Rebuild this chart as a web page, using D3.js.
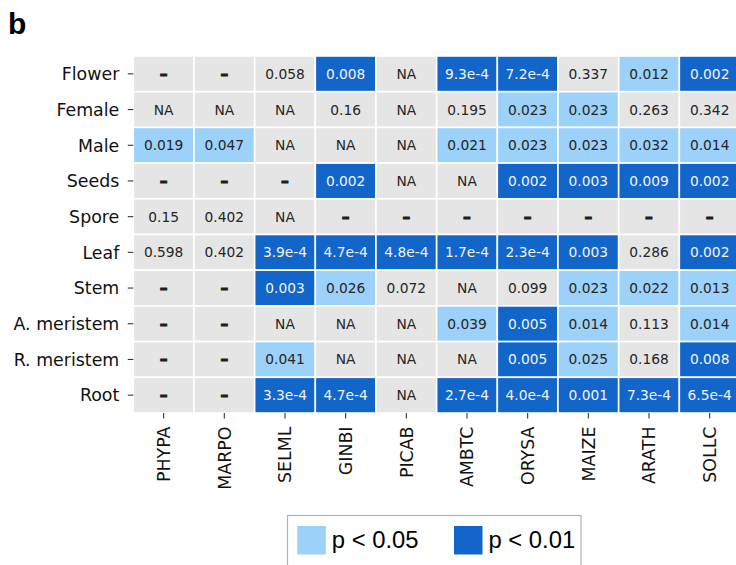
<!DOCTYPE html>
<html>
<head>
<meta charset="utf-8">
<script src="https://cdn.jsdelivr.net/npm/d3@7"></script>
<style>
  html, body { margin: 0; padding: 0; background: #fff; }
  svg { display: block; }
</style>
</head>
<body>
<svg id="chart" width="736" height="565"></svg>
<script>
// Tissues (rows, top to bottom) and species (columns, left to right)
const tissues = ["Flower", "Female", "Male", "Seeds", "Spore", "Leaf", "Stem", "A. meristem", "R. meristem", "Root"];
const species = ["PHYPA", "MARPO", "SELML", "GINBI", "PICAB", "AMBTC", "ORYSA", "MAIZE", "ARATH", "SOLLC"];

// p-values per tissue, one entry per species ("–" = not available, "NA" = not tested)
const pFlower     = ["–", "–", "0.058", "0.008", "NA", "9.3e-4", "7.2e-4", "0.337", "0.012", "0.002"];
const pFemale     = ["NA", "NA", "NA", "0.16", "NA", "0.195", "0.023", "0.023", "0.263", "0.342"];
const pMale       = ["0.019", "0.047", "NA", "NA", "NA", "0.021", "0.023", "0.023", "0.032", "0.014"];
const pSeeds      = ["–", "–", "–", "0.002", "NA", "NA", "0.002", "0.003", "0.009", "0.002"];
const pSpore      = ["0.15", "0.402", "NA", "–", "–", "–", "–", "–", "–", "–"];
const pLeaf       = ["0.598", "0.402", "3.9e-4", "4.7e-4", "4.8e-4", "1.7e-4", "2.3e-4", "0.003", "0.286", "0.002"];
const pStem       = ["–", "–", "0.003", "0.026", "0.072", "NA", "0.099", "0.023", "0.022", "0.013"];
const pAMeristem  = ["–", "–", "NA", "NA", "NA", "0.039", "0.005", "0.014", "0.113", "0.014"];
const pRMeristem  = ["–", "–", "0.041", "NA", "NA", "NA", "0.005", "0.025", "0.168", "0.008"];
const pRoot       = ["–", "–", "3.3e-4", "4.7e-4", "NA", "2.7e-4", "4.0e-4", "0.001", "7.3e-4", "6.5e-4"];

const pRows = [pFlower, pFemale, pMale, pSeeds, pSpore, pLeaf, pStem, pAMeristem, pRMeristem, pRoot];

// Significance classes shown in the legend
const legendLabels = ["p < 0.05", "p < 0.01"];

const COL_GREY = "#e5e5e5";
const COL_LIGHT = "#9cd1fa";
const COL_DARK = "#1265c9";

const cells = [];
tissues.forEach((t, i) => {
  species.forEach((s, j) => {
    const label = pRows[i][j];
    const v = Number(label);
    cells.push({ tissue: t, species: s, label, value: isNaN(v) ? null : v });
  });
});

function fillOf(d) {
  if (d.value === null) return COL_GREY;
  if (d.value < 0.01) return COL_DARK;
  if (d.value < 0.05) return COL_LIGHT;
  return COL_GREY;
}

const svg = d3.select("#chart");
const panel = { left: 133.3, right: 740, top: 56, bottom: 413 };

const x = d3.scaleBand().domain(species).range([panel.left, panel.right]).padding(0);
const y = d3.scaleBand().domain(tissues).range([panel.top, panel.bottom]).padding(0);

// Panel tag
svg.append("text")
  .attr("x", 8)
  .attr("y", 34.3)
  .attr("font-family", "Liberation Sans, Arial, sans-serif")
  .attr("font-weight", "bold")
  .attr("font-size", 30)
  .attr("fill", "#000")
  .text("b");

// Tiles
svg.append("g")
  .selectAll("rect")
  .data(cells)
  .join("rect")
  .attr("x", d => x(d.species))
  .attr("y", d => y(d.tissue))
  .attr("width", x.bandwidth())
  .attr("height", y.bandwidth())
  .attr("fill", fillOf)
  .attr("stroke", "#fff")
  .attr("stroke-width", 1.6);

// Cell labels
const isDash = d => d.label === "–";
svg.append("g")
  .selectAll("text")
  .data(cells)
  .join("text")
  .attr("x", d => x(d.species) + x.bandwidth() / 2)
  .attr("y", d => y(d.tissue) + y.bandwidth() / 2)
  .attr("dy", d => isDash(d) ? "0.32em" : "0.36em")
  .attr("text-anchor", "middle")
  .attr("font-family", "DejaVu Sans, sans-serif")
  .attr("font-size", d => isDash(d) ? 15.5 : 13.8)
  .attr("font-weight", d => isDash(d) ? "bold" : "normal")
  .attr("fill", d => fillOf(d) === COL_DARK ? "#f2f2f2" : "#262626")
  .attr("stroke", d => isDash(d) ? "#1a1a1a" : "none")
  .attr("stroke-width", d => isDash(d) ? 1 : 0)
  .text(d => d.label);

// Y axis
const yAxis = svg.append("g")
  .attr("transform", `translate(${panel.left},0)`)
  .call(d3.axisLeft(y).tickSize(5.5).tickSizeOuter(0).tickPadding(8.5));
yAxis.select(".domain").remove();
yAxis.selectAll(".tick line").attr("stroke", "#333").attr("stroke-width", 1.1);
yAxis.selectAll(".tick text")
  .attr("font-family", "DejaVu Sans, sans-serif")
  .attr("font-size", 17.4)
  .attr("fill", "#111")
  .attr("dy", "0.36em");

// X axis with vertical labels
const xAxis = svg.append("g")
  .attr("transform", `translate(0,${panel.bottom})`)
  .call(d3.axisBottom(x).tickSize(5.5).tickSizeOuter(0));
xAxis.select(".domain").remove();
xAxis.selectAll(".tick line").attr("stroke", "#333").attr("stroke-width", 1.1);
xAxis.selectAll(".tick text")
  .attr("transform", "rotate(-90)")
  .attr("text-anchor", "end")
  .attr("x", -13.5)
  .attr("y", 0)
  .attr("dy", "0.36em")
  .attr("font-family", "DejaVu Sans, sans-serif")
  .attr("font-size", 17.4)
  .attr("fill", "#111");

// Legend
const legend = svg.append("g");
legend.append("rect")
  .attr("x", 287.5).attr("y", 515.5)
  .attr("width", 293.5).attr("height", 60)
  .attr("fill", "#fff")
  .attr("stroke", "#b3b3b3")
  .attr("stroke-width", 1.2);

const legendColors = [COL_LIGHT, COL_DARK];
const keyX = [297.3, 454];
const legendItems = legend.selectAll("g.item")
  .data(legendLabels)
  .join("g")
  .attr("class", "item")
  .attr("transform", (d, i) => `translate(${keyX[i]},526)`);
legendItems.append("rect")
  .attr("width", 28.5).attr("height", 28.5)
  .attr("fill", (d, i) => legendColors[i]);
legendItems.append("text")
  .attr("x", 34.5)
  .attr("y", 22.3)
  .attr("font-family", "Liberation Sans, Arial, sans-serif")
  .attr("font-size", 23.8)
  .attr("fill", "#000")
  .text(d => d);
</script>
</body>
</html>
